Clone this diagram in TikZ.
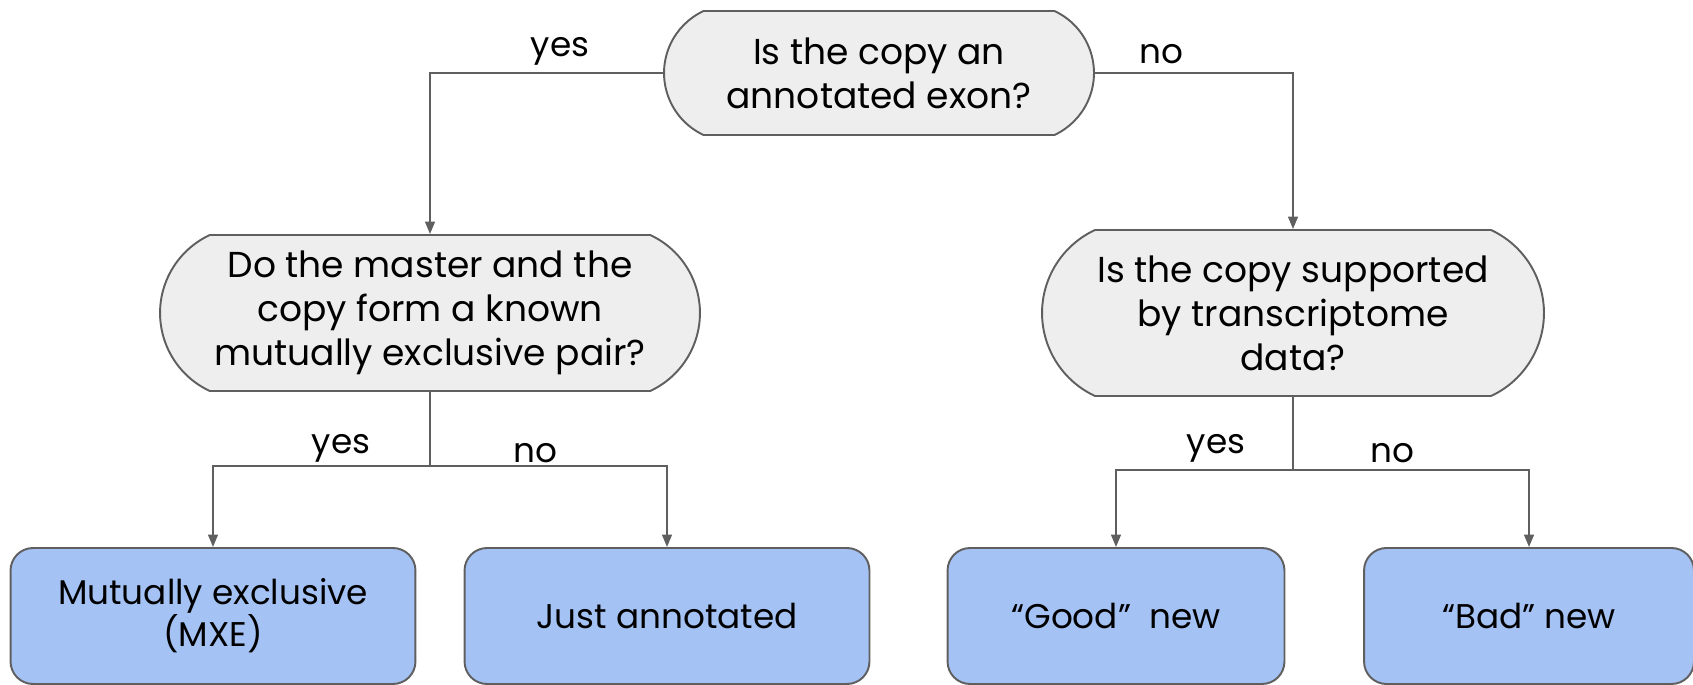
\documentclass[tikz,border=0pt]{standalone}
\usepackage{fontspec}
\setmainfont{Poppins}
\usetikzlibrary{shapes.misc, arrows.meta, positioning}

\definecolor{qfill}{HTML}{EEEEEE}
\definecolor{qline}{HTML}{5F5F5F}
\definecolor{leaffill}{HTML}{A4C2F4}

\tikzset{
  question/.style={rounded rectangle, rounded rectangle arc length=130,
    draw=qline, fill=qfill, line width=1.1pt, align=center, inner sep=0pt,
    font=\fontsize{20.5}{25}\selectfont},
  outcome/.style={rectangle, rounded corners=0.45cm, draw=qline, fill=leaffill,
    line width=1.1pt, align=center, inner sep=0pt, minimum height=2.72cm,
    font=\fontsize{19.5}{24}\selectfont},
  link/.style={draw=qline, line width=1.1pt},
  linkarrow/.style={link, -{Triangle[length=7pt,width=5.5pt]}},
  answer/.style={font=\fontsize{19.5}{22}\selectfont}
}

\begin{document}
\begin{tikzpicture}[x=0.02cm, y=-0.02cm]
                  \useasboundingbox (0,0) rectangle (1693,685);

                  % Questions
                  \node[question, minimum width=8.6cm, minimum height=2.48cm] (exonq) at (879,73) {Is the copy an\\annotated exon?};
                  \node[question, minimum width=10.8cm, minimum height=3.12cm] (pairq) at (430,313) {Do the master and the\\copy form a known\\mutually exclusive pair?};
                  \node[question, minimum width=10.04cm, minimum height=3.32cm] (rnaq) at (1293,313) {Is the copy supported\\by transcriptome\\data?};

                  % Outcomes
                  \node[outcome, minimum width=8.1cm] (mxe) at (213,616) {Mutually exclusive\\(MXE)};
                  \node[outcome, minimum width=8.1cm] (annot) at (667,616) {Just annotated};
                  \node[outcome, minimum width=6.74cm] (goodnew) at (1116,616) {“Good”\ \ new};
                  \node[outcome, minimum width=6.6cm] (badnew) at (1529,616) {“Bad” new};

                  % Split points
                  \coordinate (pairsplit) at (430,466);
                  \coordinate (rnasplit) at (1293,470);

                  % Connectors
                  \draw[linkarrow] (exonq.west) -| (pairq.north);
                  \draw[linkarrow] (exonq.east) -| (rnaq.north);
                  \draw[link] (pairq.south) -- (pairsplit);
                  \draw[linkarrow] (pairsplit) -| (mxe.north);
                  \draw[linkarrow] (pairsplit) -| (annot.north);
                  \draw[link] (rnaq.south) -- (rnasplit);
                  \draw[linkarrow] (rnasplit) -| (goodnew.north);
                  \draw[linkarrow] (rnasplit) -| (badnew.north);

                  % Answers
                  \node[answer] (exonyes) at (560,51) {yes};
                  \node[answer] (exonno) at (1161,54) {no};
                  \node[answer] (pairyes) at (341,448) {yes};
                  \node[answer] (pairno) at (535,453) {no};
                  \node[answer] (rnayes) at (1216,448) {yes};
                  \node[answer] (rnano) at (1392,453) {no};

              \end{tikzpicture}
\end{document}
